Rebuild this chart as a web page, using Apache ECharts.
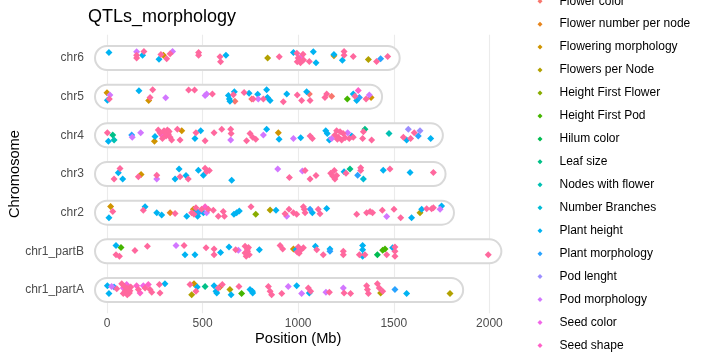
<!DOCTYPE html>
<html>
<head>
<meta charset="utf-8">
<script src="https://cdn.jsdelivr.net/npm/echarts@6/dist/echarts.min.js"></script>
<style>
html,body{margin:0;padding:0;background:#fff;}
#chart{width:710px;height:355px;}
</style>
</head>
<body>
<div id="chart"></div>
<script>
// ---------------- data ----------------
const chromosomes = ['chr1_partA','chr1_partB','chr2','chr3','chr4','chr5','chr6']; // bottom -> top
const chromLengths = [1800, 2000, 1752, 1708, 1694, 1376, 1468];
const xTicks = [0, 500, 1000, 1500, 2000];
const traits = ['Flower color','Flower number per node','Flowering morphology','Flowers per Node',
  'Height First Flower','Height First Pod','Hilum color','Leaf size','Nodes with flower',
  'Number Branches','Plant height','Plant morphology','Pod lenght','Pod morphology',
  'Seed color','Seed shape','Seed weight'];

// [position (Mb), chromosome, vertical jitter]
const flowerColor = [[669,'chr5',-0.12],[757,'chr5',-0.06],[1058,'chr5',0.07],[1175,'chr5',0.01]];
const flowerNumberPerNode = [[330,'chr2',0]];
const floweringMorphology = [[295,'chr6',0.07],[1187,'chr6',0.06],[0,'chr5',0.1],[218,'chr5',-0.1],[1381,'chr5',-0.02],
  [248,'chr4',-0.15],[391,'chr4',0.12],[896,'chr4',0.07],[178,'chr3',-0.01],[19,'chr2',0.16],[452,'chr2',0.09],
  [975,'chr1_partB',0.06],[455,'chr1_partA',0.16],[591,'chr1_partA',0.08]];
const flowersPerNode = [[840,'chr6',0],[1367,'chr6',-0.04],[853,'chr2',0.07],[1637,'chr2',0],
  [443,'chr1_partA',-0.12],[643,'chr1_partA',0.01],[1431,'chr1_partA',-0.08],[1794,'chr1_partA',-0.09]];
const heightFirstFlower = [[778,'chr2',-0.04]];
const heightFirstPod = [[1257,'chr5',-0.06],[73,'chr1_partB',0.1],[1442,'chr1_partB',0.03],[1454,'chr1_partB',0.06],[704,'chr1_partA',-0.09]];
const hilumColor = [[1414,'chr1_partB',-0.09]];
const leafSize = [[30,'chr4',0.01],[1349,'chr4',0.16],[1271,'chr3',0.13],[513,'chr1_partA',0.09]];
const nodesWithFlower = [[37,'chr4',-0.12],[1475,'chr4',0.05]];
const numberBranches = [[1341,'chr3',-0.13]];
const plantHeight = [
  [10,'chr6',0.14],[186,'chr6',0.07],[272,'chr6',-0.03],[622,'chr6',0.07],[975,'chr6',0.14],[1079,'chr6',0.16],[1093,'chr6',-0.12],[1187,'chr6',0.09],[1231,'chr6',-0.06],
  [2,'chr5',-0.09],[167,'chr5',0.15],[635,'chr5',0.03],[640,'chr5',-0.06],[643,'chr5',-0.12],[666,'chr5',0.13],[743,'chr5',0.09],[788,'chr5',0.06],[835,'chr5',0.18],[839,'chr5',-0.02],[853,'chr5',-0.1],[940,'chr5',0.07],[1044,'chr5',0.13],[1288,'chr5',0.07],[1306,'chr5',-0.1],
  [7,'chr4',-0.15],[251,'chr4',-0.03],[490,'chr4',0.12],[460,'chr4',-0.08],[835,'chr4',0.16],[900,'chr4',-0.1],[1013,'chr4',-0.06],[1144,'chr4',0.12],[1152,'chr4',0.05],[1163,'chr4',-0.12],[1280,'chr4',-0.02],[1567,'chr4',-0.12],[1693,'chr4',-0.08],
  [59,'chr3',0.03],[82,'chr3',-0.13],[356,'chr3',-0.13],[377,'chr3',0.13],[413,'chr3',-0.04],[478,'chr3',0.1],[504,'chr3',-0.03],[652,'chr3',-0.16],[1240,'chr3',0.06],[1445,'chr3',0.1],[1585,'chr3',0.04],
  [10,'chr2',-0.13],[199,'chr2',0.15],[260,'chr2',0],[286,'chr2',-0.06],[417,'chr2',-0.09],[469,'chr2',0.04],[474,'chr2',-0.09],[504,'chr2',0],[664,'chr2',-0.04],[678,'chr2',0],[692,'chr2',0.04],[884,'chr2',0.06],[1074,'chr2',0],[1149,'chr2',0.11],[1593,'chr2',-0.13],[1646,'chr2',0.09],[1750,'chr2',0.17],
  [47,'chr1_partB',0.15],[408,'chr1_partB',-0.09],[460,'chr1_partB',-0.09],[594,'chr1_partB',-0.03],[638,'chr1_partB',0.11],[797,'chr1_partB',0.04],[988,'chr1_partB',0.04],[1090,'chr1_partB',0.13],[1166,'chr1_partB',0.06],[1337,'chr1_partB',0.15],[1337,'chr1_partB',0.04],[1337,'chr1_partB',-0.13],[1494,'chr1_partB',0.09],
  [2,'chr1_partA',0.11],[10,'chr1_partA',-0.09],[303,'chr1_partA',0.16],[472,'chr1_partA',0.08],[560,'chr1_partA',0.11],[570,'chr1_partA',-0.03],[574,'chr1_partA',-0.08],[649,'chr1_partA',-0.12],[748,'chr1_partA',0.01],[760,'chr1_partA',-0.03],[762,'chr1_partA',-0.08],[992,'chr1_partA',0.11],[1058,'chr1_partA',-0.08],[1567,'chr1_partA',-0.09]];
const plantMorphology = [[1431,'chr6',-0.02],[1320,'chr5',-0.02],[129,'chr4',0.01],[1628,'chr4',-0.02],[1311,'chr3',-0.03],
  [483,'chr2',0.02],[1062,'chr2',0.09],[1166,'chr1_partB',0],[37,'chr1_partA',0.08],[1506,'chr1_partA',0.01]];
const podLenght = [[1576,'chr4',0.16],[1637,'chr4',0.12]];
const podMorphology = [[155,'chr6',0.16],[343,'chr6',0.17],
  [15,'chr5',0.04],[307,'chr5',-0.03],[513,'chr5',0.03],[521,'chr5',0.07],[791,'chr5',-0.06],[1372,'chr5',0.04],
  [132,'chr4',-0.05],[176,'chr4',0.07],[647,'chr4',-0.12],[818,'chr4',0.01],[975,'chr4',-0.08],[1175,'chr4',-0.08],[1259,'chr4',0.07],
  [260,'chr3',-0.13],[893,'chr3',0.13],[1022,'chr3',0.08],
  [521,'chr2',0],[940,'chr2',-0.09],[1463,'chr2',-0.1],[1742,'chr2',0.09],
  [361,'chr1_partB',0.15],[687,'chr1_partB',0.03],
  [24,'chr1_partA',0.09],[948,'chr1_partA',0.09],[1018,'chr1_partA',-0.09],[1145,'chr1_partA',-0.06],[1236,'chr1_partA',0.05]];
const seedColor = [[1015,'chr6',0.03],[85,'chr1_partA',0.05],[103,'chr1_partA',0.14],[190,'chr1_partA',0.11]];
const seedShape = [[1314,'chr5',0.16],[286,'chr4',0.01],[513,'chr2',0.15],
  [155,'chr1_partA',0.11],[173,'chr1_partA',-0.08],[216,'chr1_partA',0.14],[110,'chr1_partA',0.08]];
const seedWeight = [
  [155,'chr6',0.07],[155,'chr6',0],[193,'chr6',0.17],[282,'chr6',0.09],[312,'chr6',-0.02],[330,'chr6',0.11],[479,'chr6',0.14],[479,'chr6',0.07],[591,'chr6',0.03],[594,'chr6',-0.1],[901,'chr6',0.03],[993,'chr6',0.12],[1000,'chr6',0],[1005,'chr6',-0.05],[1012,'chr6',-0.12],[1025,'chr6',0.1],[1028,'chr6',-0.05],[995,'chr6',-0.1],[1058,'chr6',-0.09],[1240,'chr6',0.17],[1240,'chr6',0.07],[1288,'chr6',0.04],[1410,'chr6',-0.09],[1468,'chr6',0.04],
  [12,'chr5',-0.06],[225,'chr5',-0.02],[239,'chr5',0.18],[427,'chr5',0.17],[458,'chr5',0.17],[551,'chr5',0.07],[661,'chr5',0.05],[717,'chr5',0.11],[765,'chr5',-0.06],[818,'chr5',-0.06],[922,'chr5',-0.13],[995,'chr5',0.04],[1018,'chr5',-0.1],[1062,'chr5',-0.1],[1140,'chr5',-0.02],[1149,'chr5',0.07],[1297,'chr5',0.01],[1355,'chr5',-0.06],
  [2,'chr4',0.07],[268,'chr4',0.14],[277,'chr4',0.07],[298,'chr4',0.12],[309,'chr4',-0.02],[316,'chr4',0.14],[321,'chr4',0.03],[330,'chr4',-0.05],[338,'chr4',-0.12],[368,'chr4',0.16],[382,'chr4',-0.12],[465,'chr4',0.07],[513,'chr4',-0.14],[560,'chr4',0.07],[600,'chr4',0.16],[647,'chr4',0.16],[649,'chr4',0.05],[730,'chr4',-0.14],[748,'chr4',0.05],[762,'chr4',-0.05],[778,'chr4',-0.1],[1062,'chr4',-0.02],[1074,'chr4',-0.08],[1192,'chr4',0.01],[1201,'chr4',0.12],[1210,'chr4',-0.05],[1219,'chr4',0.09],[1227,'chr4',-0.12],[1267,'chr4',-0.08],[1288,'chr4',-0.05],[1341,'chr4',0.09],[1337,'chr4',-0.08],[1384,'chr4',-0.12],[1550,'chr4',-0.05],[1588,'chr4',-0.08],[1607,'chr4',0.07],[290,'chr4',-0.08],[305,'chr4',0.06],[325,'chr4',0.1],[1205,'chr4',-0.1],[1235,'chr4',0.05],[1245,'chr4',-0.06],
  [37,'chr3',-0.13],[68,'chr3',0.14],[164,'chr3',-0.07],[260,'chr3',-0.03],[382,'chr3',-0.07],[425,'chr3',-0.13],[513,'chr3',0.15],[521,'chr3',0.06],[535,'chr3',0.09],[954,'chr3',-0.09],[1036,'chr3',0.09],[1062,'chr3',-0.13],[1093,'chr3',-0.04],[1170,'chr3',0.02],[1180,'chr3',-0.05],[1189,'chr3',0.09],[1192,'chr3',-0.13],[1201,'chr3',-0.04],[1250,'chr3',0.02],[1327,'chr3',0.16],[1327,'chr3',0.09],[1480,'chr3',0.13],[1707,'chr3',0.04],
  [30,'chr2',0.03],[190,'chr2',0.06],[356,'chr2',-0.02],[443,'chr2',0],[455,'chr2',-0.04],[465,'chr2',0.13],[495,'chr2',0.09],[530,'chr2',0.09],[556,'chr2',0.06],[582,'chr2',-0.09],[608,'chr2',0.03],[614,'chr2',-0.09],[753,'chr2',0.15],[931,'chr2',-0.03],[952,'chr2',0.09],[975,'chr2',0],[992,'chr2',-0.04],[1027,'chr2',0.15],[1032,'chr2',0.09],[1036,'chr2',0],[1105,'chr2',0.09],[1114,'chr2',-0.03],[1306,'chr2',-0.04],[1358,'chr2',0],[1376,'chr2',0.03],[1389,'chr2',0],[1440,'chr2',0.06],[1501,'chr2',0.09],[1536,'chr2',-0.13],[1672,'chr2',0.1],[1698,'chr2',0.1],[1707,'chr2',0.13],
  [47,'chr1_partB',-0.09],[65,'chr1_partB',-0.13],[146,'chr1_partB',0.02],[211,'chr1_partB',0.13],[403,'chr1_partB',0.15],[518,'chr1_partB',0.09],[560,'chr1_partB',0.06],[560,'chr1_partB',-0.09],[673,'chr1_partB',0.04],[722,'chr1_partB',0.13],[722,'chr1_partB',-0.04],[734,'chr1_partB',0.06],[744,'chr1_partB',-0.09],[905,'chr1_partB',0.15],[919,'chr1_partB',0.06],[1001,'chr1_partB',0.11],[1015,'chr1_partB',0.04],[1027,'chr1_partB',0.09],[1097,'chr1_partB',0.04],[1131,'chr1_partB',-0.09],[1236,'chr1_partB',0],[1236,'chr1_partB',-0.09],[1320,'chr1_partB',-0.09],[1349,'chr1_partB',-0.09],[1463,'chr1_partB',-0.09],[1506,'chr1_partB',0.11],[1506,'chr1_partB',0],[1506,'chr1_partB',-0.13],[1994,'chr1_partB',-0.09],[728,'chr1_partB',-0.13],[740,'chr1_partB',0.1],[735,'chr1_partB',0],[1005,'chr1_partB',-0.05],[995,'chr1_partB',-0.02],
  [51,'chr1_partA',0.03],[77,'chr1_partA',0.16],[94,'chr1_partA',-0.03],[112,'chr1_partA',0.01],[117,'chr1_partA',-0.08],[85,'chr1_partA',-0.09],[106,'chr1_partA',-0.12],[124,'chr1_partA',0.08],[164,'chr1_partA',0.01],[199,'chr1_partA',0.05],[225,'chr1_partA',0.01],[234,'chr1_partA',-0.06],[274,'chr1_partA',0.14],[277,'chr1_partA',-0.08],[434,'chr1_partA',0.14],[465,'chr1_partA',-0.03],[582,'chr1_partA',0.05],[603,'chr1_partA',0.14],[690,'chr1_partA',0.09],[844,'chr1_partA',0.09],[853,'chr1_partA',-0.03],[861,'chr1_partA',-0.12],[914,'chr1_partA',-0.09],[1053,'chr1_partA',0.05],[1065,'chr1_partA',-0.03],[1163,'chr1_partA',-0.06],[1240,'chr1_partA',-0.08],[1274,'chr1_partA',-0.09],[1358,'chr1_partA',0.11],[1362,'chr1_partA',0.01],[1367,'chr1_partA',-0.09],[1414,'chr1_partA',0.16],[1424,'chr1_partA',0.05],[1442,'chr1_partA',-0.03],[90,'chr1_partA',0.1],[98,'chr1_partA',-0.06],[108,'chr1_partA',0.03],[120,'chr1_partA',-0.02]];

const traitData = [flowerColor, flowerNumberPerNode, floweringMorphology, flowersPerNode, heightFirstFlower,
  heightFirstPod, hilumColor, leafSize, nodesWithFlower, numberBranches, plantHeight, plantMorphology,
  podLenght, podMorphology, seedColor, seedShape, seedWeight];

// ---------------- ggplot2 default hue palette (hcl) ----------------
function hcl(h, c, l) {
  const WY = 100, Wu = 0.1978398, Wv = 0.4683363;
  const hr = h * Math.PI / 180;
  const U = c * Math.cos(hr), V = c * Math.sin(hr);
  const Y = WY * (l > 7.999592 ? Math.pow((l + 16) / 116, 3) : l / 903.3);
  const u = U / (13 * l) + Wu, v = V / (13 * l) + Wv;
  const X = 9 * Y * u / (4 * v);
  const Z = -X / 3 - 5 * Y + 3 * Y / v;
  const g = t => t > 0.00304 ? 1.055 * Math.pow(t, 1 / 2.4) - 0.055 : 12.92 * t;
  const toHex = t => { t = Math.max(0, Math.min(1, t)); return Math.round(t * 255).toString(16).padStart(2, '0'); };
  const R = g((3.240479 * X - 1.537150 * Y - 0.498535 * Z) / WY);
  const G = g((-0.969256 * X + 1.875992 * Y + 0.041556 * Z) / WY);
  const B = g((0.055648 * X - 0.204043 * Y + 1.057311 * Z) / WY);
  return '#' + toHex(R) + toHex(G) + toHex(B);
}
const n = traits.length;
const palette = traits.map((t, i) => hcl(15 + 360 * i / n, 100, 65));

// ---------------- chart ----------------
const FONT = 'Liberation Sans, Arial, sans-serif';
const chart = echarts.init(document.getElementById('chart'), null, {renderer: 'canvas'});

const series = [];
// vertical grid lines
series.push({
  type: 'line', data: [], silent: true,
  markLine: {
    z: 0, silent: true, symbol: ['none', 'none'], animation: false,
    label: {show: false},
    lineStyle: {color: '#EBEBEB', width: 1.1, type: 'solid'},
    emphasis: {disabled: true},
    data: xTicks.map(v => ({xAxis: v}))
  }
});
// chromosome outlines
series.push({
  type: 'custom', z: 1, silent: true, clip: false,
  encode: {x: 0, y: 1},
  data: chromosomes.map((c, i) => [chromLengths[i], i + 1]),
  renderItem: function (params, api) {
    const len = api.value(0), row = api.value(1);
    const a = api.coord([0, row]), b = api.coord([len, row]);
    return {
      type: 'rect',
      shape: {x: a[0] - 12, y: a[1] - 12, width: b[0] - a[0] + 24, height: 24, r: 12},
      style: {fill: '#FFFFFF', stroke: '#D9D9D9', lineWidth: 2}
    };
  }
});
traits.forEach((t, i) => {
  series.push({
    name: t, type: 'scatter', z: 2, symbol: 'diamond', symbolSize: 7,
    itemStyle: {color: palette[i], opacity: 1},
    emphasis: {disabled: true},
    data: traitData[i].map(d => [d[0], chromosomes.indexOf(d[1]) + 1 + d[2]])
  });
});

const option = {
  animation: false,
  textStyle: {fontFamily: FONT},
  title: {
    text: 'QTLs_morphology', left: 88, top: 8, padding: 0,
    textStyle: {fontFamily: FONT, fontSize: 18, fontWeight: 'normal', color: '#000'}
  },
  legend: {
    type: 'plain', orient: 'vertical', left: 537.5, top: -5.8, padding: 0, height: 600,
    itemGap: 8.95, itemWidth: 5, itemHeight: 5, icon: 'diamond', selectedMode: false,
    data: traits,
    formatter: name => '{s| }' + name,
    textStyle: {fontFamily: FONT, fontSize: 12, color: '#000', lineHeight: 14,
      rich: {s: {width: 12, fontSize: 12}}}
  },
  grid: {left: 87.9, top: 34.8, width: 420.6, height: 278.4, containLabel: false, outerBoundsMode: 'none'},
  xAxis: {
    type: 'value', min: -100, max: 2100,
    name: 'Position (Mb)', nameLocation: 'middle', nameGap: 18, nameMoveOverlap: false,
    nameTextStyle: {fontFamily: FONT, fontSize: 14.67, color: '#000'},
    axisLine: {show: false}, axisTick: {show: false, customValues: xTicks},
    splitLine: {show: false},
    axisLabel: {customValues: xTicks, margin: 4, fontFamily: FONT, fontSize: 12, color: '#4D4D4D',
      formatter: v => String(v)}
  },
  yAxis: {
    type: 'value', min: 0.4, max: 7.6,
    name: 'Chromosome', nameLocation: 'middle', nameGap: 65, nameMoveOverlap: false,
    nameTextStyle: {fontFamily: FONT, fontSize: 14.67, color: '#000'},
    axisLine: {show: false}, axisTick: {show: false, customValues: [1,2,3,4,5,6,7]},
    splitLine: {show: false},
    axisLabel: {customValues: [1,2,3,4,5,6,7], margin: 4, fontFamily: FONT, fontSize: 12, color: '#4D4D4D',
      formatter: v => chromosomes[Math.round(v) - 1] || ''}
  },
  series: series
};
chart.setOption(option);
</script>
</body>
</html>
